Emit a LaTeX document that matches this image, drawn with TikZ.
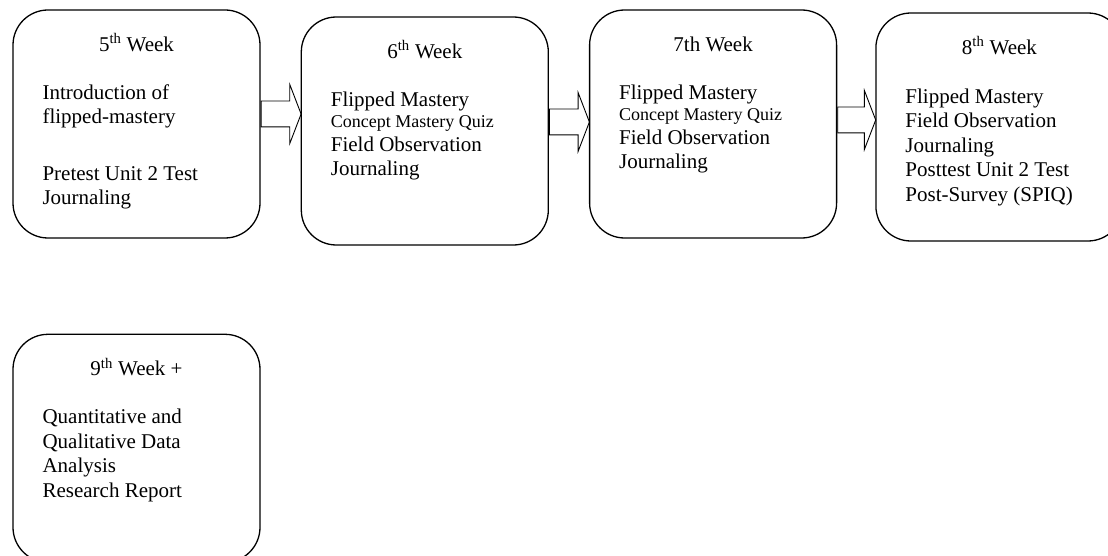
\documentclass[tikz,border=0pt]{standalone}
\usepackage{fontspec}
\setmainfont{Liberation Serif}
\usetikzlibrary{positioning, shapes.arrows}

\begin{document}
\begin{tikzpicture}[
  font=\fontsize{21}{23.5}\selectfont,
  node distance=40pt,
  week/.style={draw=black, line width=1.3pt, rounded corners=35pt,
               minimum width=247pt, minimum height=228pt, inner sep=0pt},
  wtitle/.style={anchor=base, inner sep=0pt},
  wbody/.style={anchor=north west, align=left, inner sep=0pt},
  wide/.style={font=\fontsize{21}{24.5}\selectfont},
  blockarrow/.style={draw=black, line width=0.9pt, single arrow, anchor=tail,
                     single arrow head extend=16.5pt, single arrow tip angle=138,
                     inner xsep=0pt, inner ysep=12.5pt, text height=0pt,
                     text depth=0pt, minimum width=0pt},
]
  \useasboundingbox (0,0) rectangle (1108pt,-556pt);
  \clip (0,0) rectangle (1108pt,-556pt);

  % --- week boxes ---
  \node[week] (w5) at (136.5pt,-124pt) {};
  \node[week, right=of w5, yshift=-7pt] (w6) {};
  \node[week, right=of w6, yshift=7pt] (w7) {};
  \node[week, right=38pt of w7, yshift=-3pt] (w8) {};
  \node[week, below=95pt of w5] (w9) {};

  % --- titles ---
  \node[wtitle] (t5) at ([yshift=-42pt]w5.north) {5\textsuperscript{th} Week};
  \node[wtitle] (t6) at ([yshift=-42pt]w6.north) {6\textsuperscript{th} Week};
  \node[wtitle] (t7) at ([yshift=-42pt]w7.north) {7th Week};
  \node[wtitle] (t8) at ([yshift=-42pt]w8.north) {8\textsuperscript{th} Week};
  \node[wtitle] (t9) at ([yshift=-42pt]w9.north) {9\textsuperscript{th} Week +};

  % --- contents ---
  \node[wbody] (d5) at ([xshift=30pt, yshift=-75.5pt]w5.north west)
    {Introduction of\\flipped-mastery\\[34pt]Pretest Unit 2 Test\\Journaling};
  \node[wbody] (d6) at ([xshift=30pt, yshift=-75.5pt]w6.north west)
    {Flipped Mastery\\[-3pt]{\fontsize{18}{20}\selectfont Concept Mastery Quiz}\\[1pt]
     Field Observation\\Journaling};
  \node[wbody] (d7) at ([xshift=30pt, yshift=-75.5pt]w7.north west)
    {Flipped Mastery\\[-3pt]{\fontsize{18}{20}\selectfont Concept Mastery Quiz}\\[1pt]
     Field Observation\\Journaling};
  \node[wbody, wide] (d8) at ([xshift=30pt, yshift=-76pt]w8.north west)
    {Flipped Mastery\\Field Observation\\Journaling\\Posttest Unit 2 Test\\
     Post-Survey (SPIQ)};
  \node[wbody, wide] (d9) at ([xshift=30pt, yshift=-75.5pt]w9.north west)
    {Quantitative and\\Qualitative Data\\Analysis\\Research Report};

  % --- block arrows between weeks ---
  \node[blockarrow, minimum height=40pt] (a56) at ([yshift=10pt]w5.east) {};
  \node[blockarrow, minimum height=40pt] (a67) at ([yshift=9pt]w6.east) {};
  \node[blockarrow, minimum height=38pt] (a78) at ([yshift=4pt]w7.east) {};
\end{tikzpicture}
\end{document}
